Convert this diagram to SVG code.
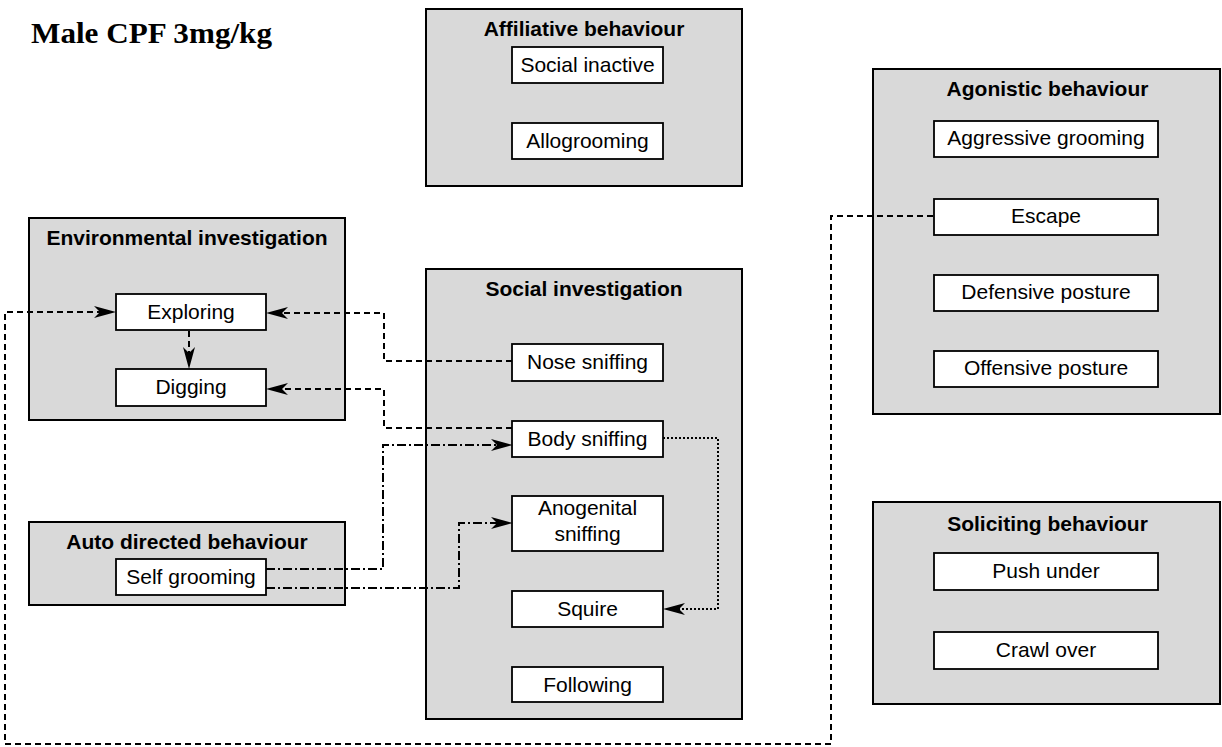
<svg xmlns="http://www.w3.org/2000/svg" width="1222" height="747" viewBox="0 0 1222 747">
  <style>
    .group { fill: #d9d9d9; stroke: #000; stroke-width: 2; }
    .item { fill: #fff; stroke: #000; stroke-width: 1.8; }
    .gtitle { font-family: "Liberation Sans", Arial, Helvetica, sans-serif; font-size: 21px; font-weight: bold; text-anchor: middle; fill: #000; }
    .label { font-family: "Liberation Sans", Arial, Helvetica, sans-serif; font-size: 21px; text-anchor: middle; fill: #000; }
    .heading { font-family: "Liberation Serif", "Times New Roman", serif; font-size: 29px; font-weight: bold; fill: #000; }
    .link { fill: none; stroke: #000; stroke-width: 2; }
    .dashed { stroke-dasharray: 6 4; }
    .dashdot { stroke-dasharray: 9 3 2 3; }
    .dotted { stroke-dasharray: 2 2; }
  </style>
  <defs>
    <marker id="arrow" viewBox="0 0 22 12" refX="14" refY="6" markerWidth="22" markerHeight="12" markerUnits="userSpaceOnUse" orient="auto">
      <path d="M0,0 L22,6 L0,12 L6,6 Z" fill="#000"/>
    </marker>
  </defs>

  <rect width="1222" height="747" fill="#fff"/>

  <text class="heading" x="31" y="43" textLength="241" lengthAdjust="spacingAndGlyphs">Male CPF 3mg/kg</text>

  <!-- behaviour categories -->
  <g id="affiliative">
    <rect class="group" x="426" y="9" width="316" height="177"/>
    <text class="gtitle" x="584" y="36">Affiliative behaviour</text>
    <g id="social-inactive">
      <rect class="item" x="512" y="47" width="151" height="36"/>
      <text class="label" x="587.5" y="72">Social inactive</text>
    </g>
    <g id="allogrooming">
      <rect class="item" x="512" y="123" width="151" height="36"/>
      <text class="label" x="587.5" y="148">Allogrooming</text>
    </g>
  </g>

  <g id="environmental">
    <rect class="group" x="29" y="218" width="316" height="202"/>
    <text class="gtitle" x="187" y="245">Environmental investigation</text>
    <g id="exploring">
      <rect class="item" x="116" y="294" width="150" height="36"/>
      <text class="label" x="191" y="319">Exploring</text>
    </g>
    <g id="digging">
      <rect class="item" x="116" y="369" width="150" height="37"/>
      <text class="label" x="191" y="394">Digging</text>
    </g>
  </g>

  <g id="auto-directed">
    <rect class="group" x="29" y="522" width="316" height="83"/>
    <text class="gtitle" x="187" y="549">Auto directed behaviour</text>
    <g id="self-grooming">
      <rect class="item" x="116" y="559" width="150" height="36"/>
      <text class="label" x="191" y="584">Self grooming</text>
    </g>
  </g>

  <g id="social-investigation">
    <rect class="group" x="426" y="269" width="316" height="450"/>
    <text class="gtitle" x="584" y="296">Social investigation</text>
    <g id="nose-sniffing">
      <rect class="item" x="512" y="344" width="151" height="37"/>
      <text class="label" x="587.5" y="369">Nose sniffing</text>
    </g>
    <g id="body-sniffing">
      <rect class="item" x="512" y="421" width="151" height="36"/>
      <text class="label" x="587.5" y="446">Body sniffing</text>
    </g>
    <g id="anogenital-sniffing">
      <rect class="item" x="512" y="496" width="151" height="55"/>
      <text class="label" x="587.5" y="515">Anogenital</text>
      <text class="label" x="587.5" y="541">sniffing</text>
    </g>
    <g id="squire">
      <rect class="item" x="512" y="591" width="151" height="36"/>
      <text class="label" x="587.5" y="616">Squire</text>
    </g>
    <g id="following">
      <rect class="item" x="512" y="667" width="151" height="35"/>
      <text class="label" x="587.5" y="692">Following</text>
    </g>
  </g>

  <g id="agonistic">
    <rect class="group" x="873" y="69" width="347" height="345"/>
    <text class="gtitle" x="1047.5" y="96">Agonistic behaviour</text>
    <g id="aggressive-grooming">
      <rect class="item" x="934" y="121" width="224" height="36"/>
      <text class="label" x="1046" y="145">Aggressive grooming</text>
    </g>
    <g id="escape">
      <rect class="item" x="934" y="199" width="224" height="36"/>
      <text class="label" x="1046" y="223">Escape</text>
    </g>
    <g id="defensive-posture">
      <rect class="item" x="934" y="275" width="224" height="36"/>
      <text class="label" x="1046" y="299">Defensive posture</text>
    </g>
    <g id="offensive-posture">
      <rect class="item" x="934" y="351" width="224" height="36"/>
      <text class="label" x="1046" y="375">Offensive posture</text>
    </g>
  </g>

  <g id="soliciting">
    <rect class="group" x="873" y="502" width="347" height="202"/>
    <text class="gtitle" x="1047.5" y="531">Soliciting behaviour</text>
    <g id="push-under">
      <rect class="item" x="934" y="553" width="224" height="37"/>
      <text class="label" x="1046" y="578">Push under</text>
    </g>
    <g id="crawl-over">
      <rect class="item" x="934" y="632" width="224" height="37"/>
      <text class="label" x="1046" y="657">Crawl over</text>
    </g>
  </g>

  <!-- transitions between behaviours -->
  <g id="connectors">
    <path class="link dashed" d="M933,216 H831 V744 H5 V312 H108" marker-end="url(#arrow)"/>
    <path class="link dashed" d="M512,361 H384 V313 H274" marker-end="url(#arrow)"/>
    <path class="link dashed" d="M512,428 H384 V389 H274" marker-end="url(#arrow)"/>
    <path class="link dashed" d="M189,331 V361" marker-end="url(#arrow)"/>
    <path class="link dashdot" d="M266,569 H383 V445 H505" marker-end="url(#arrow)"/>
    <path class="link dashdot" d="M266,588 H459 V523 H505" marker-end="url(#arrow)"/>
    <path class="link dotted" d="M663,438 H718 V609 H671" marker-end="url(#arrow)"/>
  </g>
</svg>
